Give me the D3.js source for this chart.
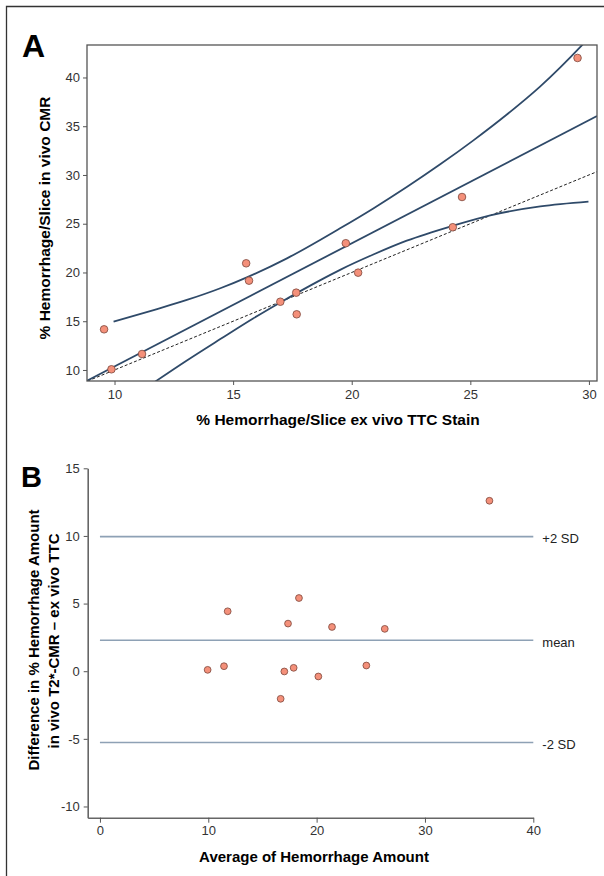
<!DOCTYPE html>
<html>
<head>
<meta charset="utf-8">
<script src="https://cdn.jsdelivr.net/npm/d3@7"></script>
<style>
	body { margin: 0; background: #fff; }
	svg { display: block; font-family: "Liberation Sans", Arial, sans-serif; }
</style>
</head>
<body>
<svg id="chart" width="604" height="876"></svg>
<script>
// Panel A: ex vivo TTC vs in vivo CMR (% hemorrhage/slice)
const ttcValues = [9.56, 9.87, 11.16, 15.55, 15.67, 16.99, 17.66, 17.68, 19.75, 20.27, 24.26, 24.65, 29.52];
const cmrValues = [14.17, 10.07, 11.64, 20.94, 19.16, 17.0, 17.93, 15.71, 23.0, 19.98, 24.64, 27.74, 42.0];

// regression line and its band
const fitLine = [[8.84, 8.9], [30.34, 36.05]];
const identityLine = [[8.87, 8.87], [30.34, 30.34]];
const upperBand = [[9.96, 14.95], [11.65, 16.15], [13.05, 17.18], [14.46, 18.38], [15.58, 19.5],
	[17.27, 21.45], [19.51, 24.53], [20.91, 26.57], [22.32, 28.76], [23.73, 31.09],
	[25.13, 33.55], [26.54, 36.2], [27.95, 39.09], [29.70, 43.29], [30.2, 44.6]];
const lowerBand = [[11.71, 8.8], [13.05, 10.98], [14.46, 13.17], [15.86, 15.31], [16.99, 16.93],
	[18.68, 19.22], [19.51, 20.27], [20.91, 21.84], [22.32, 23.26], [24.26, 24.79],
	[25.84, 25.86], [27.95, 26.77], [29.98, 27.26]];

const ticksAX = [10, 15, 20, 25, 30];
const ticksAY = [10, 15, 20, 25, 30, 35, 40];

// Panel B: Bland-Altman
const avgValues = [9.94, 11.45, 11.79, 16.68, 17.02, 17.36, 17.88, 18.37, 20.16, 21.42, 24.59, 26.29, 35.95];
const diffValues = [0.1, 0.37, 4.43, -2.04, -0.02, 3.52, 0.25, 5.41, -0.39, 3.27, 0.42, 3.13, 12.6];
const limitLabels = ["+2 SD", "mean", "-2 SD"];
const limitValues = [9.95, 2.29, -5.27];

const ticksBX = [0, 10, 20, 30, 40];
const ticksBY = [-10, -5, 0, 5, 10, 15];

(function() {
	const curveColor = "#2f4a69";
	const dotFill = "#f4907a";
	const dotStroke = "#7c463b";

	let svg = d3.select("#chart");

	// outer frame (left and top only)
	svg.append("path")
		.attr("d", "M6.5,876V6.5H604")
		.attr("fill", "none")
		.attr("stroke", "#333")
		.attr("stroke-width", 1.3);

	makePanelA();
	makePanelB();

	function makePanelA() {
		let x = d3.scaleLinear().domain([8.84, 30.34]).range([87, 597]);
		let y = d3.scaleLinear().domain([8.87, 43.33]).range([381, 45]);

		svg.append("text")
			.attr("x", 22)
			.attr("y", 57)
			.style("font-size", "32px")
			.style("font-weight", "bold")
			.text("A");

		svg.append("clipPath")
			.attr("id", "clip-a")
			.append("rect")
			.attr("x", 87).attr("y", 45)
			.attr("width", 510).attr("height", 336);

		let xAxis = svg.append("g")
			.attr("transform", "translate(0,381)")
			.call(d3.axisBottom(x).tickValues(ticksAX).tickSize(4).tickPadding(5).tickFormat(d => String(d)));
		let yAxis = svg.append("g")
			.attr("transform", "translate(87,0)")
			.call(d3.axisLeft(y).tickValues(ticksAY).tickSize(4).tickPadding(3).tickFormat(d => String(d)));
		styleAxis(xAxis);
		styleAxis(yAxis);
		xAxis.select(".domain").remove();
		yAxis.select(".domain").remove();

		let plot = svg.append("g").attr("clip-path", "url(#clip-a)");

		let line = d3.line()
			.x(d => x(d[0]))
			.y(d => y(d[1]));
		let smooth = d3.line()
			.x(d => x(d[0]))
			.y(d => y(d[1]))
			.curve(d3.curveMonotoneX);

		plot.append("path")
			.attr("d", line(identityLine))
			.attr("fill", "none")
			.attr("stroke", "#222")
			.attr("stroke-width", 1)
			.attr("stroke-dasharray", "3,2");

		plot.append("path")
			.attr("d", line(fitLine))
			.attr("fill", "none")
			.attr("stroke", curveColor)
			.attr("stroke-width", 1.8);

		[upperBand, lowerBand].forEach(function(d) {
			plot.append("path")
				.attr("d", smooth(d))
				.attr("fill", "none")
				.attr("stroke", curveColor)
				.attr("stroke-width", 1.8);
		});

		plot.selectAll("circle")
			.data(ttcValues)
			.enter()
			.append("circle")
			.attr("cx", d => x(d))
			.attr("cy", (d, i) => y(cmrValues[i]))
			.attr("r", 3.8)
			.attr("fill", dotFill)
			.attr("stroke", dotStroke)
			.attr("stroke-width", 0.8);

		// plot box
		svg.append("rect")
			.attr("x", 87).attr("y", 45)
			.attr("width", 510).attr("height", 336)
			.attr("fill", "none")
			.attr("stroke", "#555")
			.attr("stroke-width", 1.3);

		svg.append("text")
			.attr("x", 338)
			.attr("y", 425)
			.attr("text-anchor", "middle")
			.style("font-size", "15.5px")
			.style("font-weight", "bold")
			.text("% Hemorrhage/Slice ex vivo TTC Stain");

		svg.append("text")
			.attr("transform", "translate(50,218) rotate(-90)")
			.attr("text-anchor", "middle")
			.style("font-size", "15.5px")
			.style("font-weight", "bold")
			.text("% Hemorrhage/Slice in vivo CMR");
	}

	function makePanelB() {
		let x = d3.scaleLinear().domain([-1.13, 40]).range([87.7, 533.3]);
		let y = d3.scaleLinear().domain([-10.83, 15]).range([817.7, 468.3]);

		svg.append("text")
			.attr("x", 21)
			.attr("y", 487)
			.style("font-size", "29px")
			.style("font-weight", "bold")
			.text("B");

		let xAxis = svg.append("g")
			.attr("transform", "translate(0,817.7)")
			.call(d3.axisBottom(x).tickValues(ticksBX).tickSize(5).tickPadding(3).tickSizeOuter(0)
				.tickFormat(d => String(d)));
		let yAxis = svg.append("g")
			.attr("transform", "translate(87.7,0)")
			.call(d3.axisLeft(y).tickValues(ticksBY).tickSize(4).tickPadding(4).tickSizeOuter(0)
				.tickFormat(d => String(d)));
		styleAxis(xAxis);
		styleAxis(yAxis);
		xAxis.select(".domain").attr("stroke", "#666").attr("stroke-width", 1.6);
		yAxis.select(".domain").attr("stroke", "#666").attr("stroke-width", 1.6);

		// mean and limits of agreement
		let limits = svg.append("g");
		limits.selectAll("line")
			.data(limitValues)
			.enter()
			.append("line")
			.attr("x1", x(0))
			.attr("x2", x(40))
			.attr("y1", d => y(d))
			.attr("y2", d => y(d))
			.attr("stroke", "#8ea1b5")
			.attr("stroke-width", 1.6);
		limits.selectAll("text")
			.data(limitValues)
			.enter()
			.append("text")
			.attr("x", x(40) + 9)
			.attr("y", d => y(d) + 2)
			.attr("dy", "0.35em")
			.style("font-size", "13px")
			.style("fill", "#222")
			.text((d, i) => limitLabels[i]);

		svg.append("g")
			.selectAll("circle")
			.data(avgValues)
			.enter()
			.append("circle")
			.attr("cx", d => x(d))
			.attr("cy", (d, i) => y(diffValues[i]))
			.attr("r", 3.4)
			.attr("fill", dotFill)
			.attr("stroke", dotStroke)
			.attr("stroke-width", 0.8);

		svg.append("text")
			.attr("x", 314)
			.attr("y", 862)
			.attr("text-anchor", "middle")
			.style("font-size", "15px")
			.style("font-weight", "bold")
			.text("Average of Hemorrhage Amount");

		svg.append("text")
			.attr("transform", "translate(38.5,640) rotate(-90)")
			.attr("text-anchor", "middle")
			.style("font-size", "15px")
			.style("font-weight", "bold")
			.text("Difference in % Hemorrhage Amount");
		svg.append("text")
			.attr("transform", "translate(58.5,641) rotate(-90)")
			.attr("text-anchor", "middle")
			.style("font-size", "15px")
			.style("font-weight", "bold")
			.text("in vivo T2*-CMR \u2013 ex vivo TTC");
	}

	function styleAxis(g) {
		g.selectAll(".tick line").attr("stroke", "#555");
		g.selectAll(".tick text")
			.style("font-size", "13px")
			.style("fill", "#333")
			.style("font-family", "\"Liberation Sans\", Arial, sans-serif");
	}
})();
</script>
</body>
</html>
